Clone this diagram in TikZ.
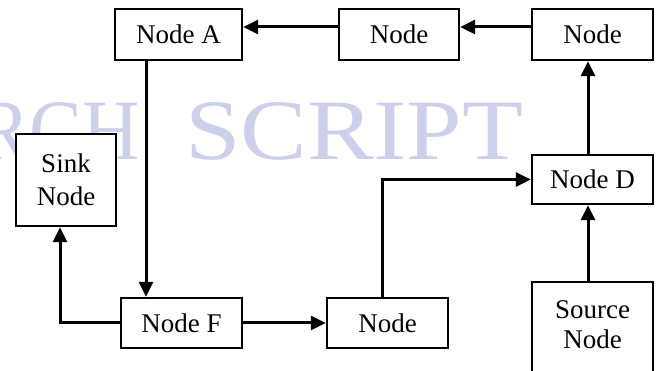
\documentclass[tikz,border=0pt]{standalone}
\usepackage{fontspec}
\setmainfont{Liberation Serif}
\usetikzlibrary{arrows.meta}
\definecolor{wm}{RGB}{204,208,234}
\tikzset{
  box/.style={draw=black, line width=2.3pt, fill=white, inner sep=0pt, font=\fontsize{27}{33}\selectfont, align=center},
  arr/.style={line width=3pt, -{Triangle[length=15pt,width=14pt]}},
  wmark/.style={text=wm, inner sep=0pt, font=\fontsize{86}{86}\selectfont}
}
\begin{document}
\begin{tikzpicture}[x=1pt,y=-1pt]
\useasboundingbox (0,0) rectangle (670,371);
\clip (0,0) rectangle (670,371);
\fill[white] (0,0) rectangle (670,371);
% watermark
\node[wmark, xscale=0.92, anchor=base east] (wm1) at (140,160) {RCH};
\node[wmark, xscale=1.16, anchor=base west] (wm2) at (185,160) {SCRIPT};
% nodes
\node[box, minimum width=127pt, minimum height=51pt] (A) at (178.5,34.5) {Node A};
\node[box, minimum width=120pt, minimum height=51pt] (M) at (399,34.5) {Node};
\node[box, minimum width=121pt, minimum height=51pt] (TR) at (592.5,34.5) {Node};
\node[box, minimum width=100pt, minimum height=92pt] (S) at (66,180) {Sink\\Node};
\node[box, minimum width=121pt, minimum height=50pt] (F) at (181.5,323) {Node F};
\node[box, minimum width=121pt, minimum height=50pt] (B) at (387.5,323) {Node};
\node[box, minimum width=121pt, minimum height=49pt] (D) at (592.5,179.5) {Node D};
\node[box, minimum width=121pt, minimum height=130pt, anchor=north] (src) at (592.5,281) {};
\node[inner sep=0pt, font=\fontsize{27}{30}\selectfont, align=center] (srct) at (592.5,325) {Source\\Node};
% connectors
\coordinate (ax) at (146,0);
\coordinate (bx) at (382,0);
\coordinate (dx) at (588,0);
\coordinate (sx) at (60,0);
\draw[arr] ([yshift=7.5pt]TR.west) -- ([yshift=7.5pt]M.east);
\draw[arr] ([yshift=7.5pt]M.west) -- ([yshift=7.5pt]A.east);
\draw[arr] (A.south -| ax) -- (F.north -| ax);
\draw[arr] (F.west) -| (S.south -| sx);
\draw[arr] (F.east) -- (B.west);
\draw[arr] (B.north -| bx) |- (D.west);
\draw[arr] (src.north -| dx) -- (D.south -| dx);
\draw[arr] (D.north -| dx) -- (TR.south -| dx);
\end{tikzpicture}
\end{document}
